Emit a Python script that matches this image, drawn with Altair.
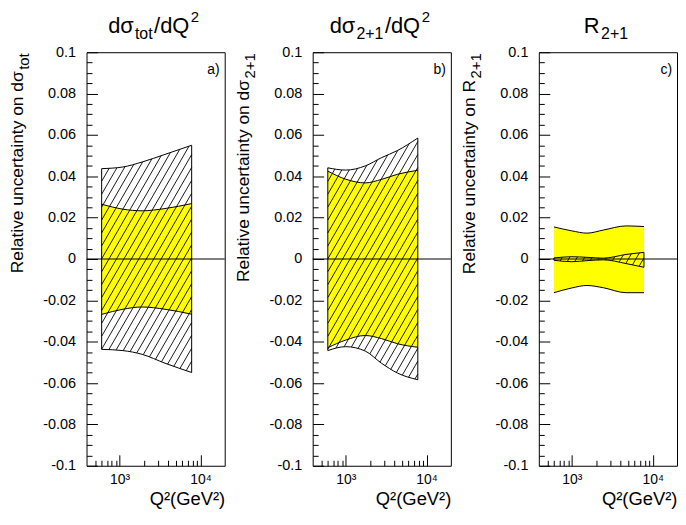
import numpy as np
import pandas as pd
import altair as alt

# ---------------- data ----------------
# titles: (text piece, role) -- role main / sub(script) / sup(erscript)
TITLE_PARTS = [
    [("dσ", "main"), ("tot", "sub"), ("/dQ", "main"), ("2", "sup")],
    [("dσ", "main"), ("2+1", "sub"), ("/dQ", "main"), ("2", "sup")],
    [("R", "main"), ("2+1", "sub")],
]
YTITLE_MAIN = ["Relative uncertainty on dσ",
               "Relative uncertainty on dσ",
               "Relative uncertainty on R"]
YTITLE_SUB = ["tot", "2+1", "2+1"]
PANEL_TAGS = ["a)", "b)", "c)"]
X_TITLE = "Q²(GeV²)"

# panel a : dsigma_tot/dQ2
Q2_A = [600, 1100, 1900, 3650, 7800]
HATCH_HI_A = [0.0437, 0.0445, 0.0469, 0.0506, 0.0550]
HATCH_LO_A = [-0.0437, -0.0443, -0.0461, -0.0504, -0.0549]
YEL_HI_A = [0.0265, 0.0241, 0.0233, 0.0244, 0.0268]
YEL_LO_A = [-0.0268, -0.0243, -0.0232, -0.0243, -0.0267]

# panel b : dsigma_2+1/dQ2
Q2_B = [600, 1000, 1740, 2770, 4390, 7800]
HATCH_HI_B = [0.0441, 0.0430, 0.0450, 0.0490, 0.0525, 0.0585]
HATCH_LO_B = [-0.0443, -0.0424, -0.0445, -0.0504, -0.0552, -0.0584]
YEL_HI_B = [0.0425, 0.0386, 0.0368, 0.0385, 0.0410, 0.0429]
YEL_LO_B = [-0.0429, -0.0392, -0.0370, -0.0385, -0.0410, -0.0427]

# panel c : R_2+1
Q2_C = [600, 1000, 1540, 2450, 4680, 7800]
HATCH_HI_C = [0.0005, 0.0011, 0.0008, 0.0004, 0.0022, 0.0032]
HATCH_LO_C = [-0.0006, -0.0013, -0.0008, -0.0004, -0.0022, -0.0040]
YEL_HI_C = [0.0155, 0.0136, 0.0125, 0.0140, 0.0160, 0.0157]
YEL_LO_C = [-0.0163, -0.0140, -0.0128, -0.0139, -0.0163, -0.0163]

X_DOMAIN = [390, 20000]
Y_DOMAIN = [-0.1, 0.1]
X_MAJOR = [1000, 10000]
X_TICKS = [500, 600, 700, 800, 900, 1000, 2000, 3000, 4000, 5000,
           6000, 7000, 8000, 9000, 10000]
Y_MAJOR = [round(v, 3) for v in np.arange(-0.1, 0.1001, 0.02)]
Y_TICKS = [round(v, 3) for v in np.arange(-0.1, 0.1001, 0.005)]

# ---------------- layout ----------------
W, H = 139, 416
YELLOW = "#ffff00"
FONT = "Liberation Sans"
# role -> (font size, baseline shift)
ROLE_STYLE = {"main": (22, 0.0), "sub": (16, 6.0), "sup": (15, -11.5)}
TITLE_BASELINE = -19
YT_X, YT_MAIN_FS, YT_SUB_FS = -69, 17.5, 15
# approximate advance widths (1/1000 em) of Liberation Sans
ADV = {"d": 556, "σ": 600, "t": 278, "o": 556, "/": 278, "Q": 778, "R": 722,
       "2": 556, "+": 584, "1": 556}


def text_width(s, fs):
    return sum(ADV.get(ch, 556) for ch in s) / 1000.0 * fs


def monotone_eval(xp, yp, xs):
    """Same curve as Vega's 'monotone' interpolation (d3 curveMonotoneX)."""
    xp = np.asarray(xp, float)
    yp = np.asarray(yp, float)
    n = len(xp)
    h = np.diff(xp)
    s = np.diff(yp) / h
    t = np.zeros(n)
    if n > 2:
        for i in range(1, n - 1):
            h0, h1, s0, s1 = h[i - 1], h[i], s[i - 1], s[i]
            p = (s0 * h1 + s1 * h0) / (h0 + h1)
            sg = (-1 if s0 < 0 else 1) + (-1 if s1 < 0 else 1)
            t[i] = sg * min(abs(s0), abs(s1), 0.5 * abs(p))
        t[0] = (3 * s[0] - t[1]) / 2
        t[-1] = (3 * s[-1] - t[-2]) / 2
    else:
        t[:] = s[0]
    idx = np.clip(np.searchsorted(xp, xs, side="right") - 1, 0, n - 2)
    x0, x1 = xp[idx], xp[idx + 1]
    y0, y1 = yp[idx], yp[idx + 1]
    dx = x1 - x0
    tau = (xs - x0) / dx
    c0 = y0 + dx * t[idx] / 3
    c1 = y1 - dx * t[idx + 1] / 3
    return ((1 - tau) ** 3) * y0 + 3 * ((1 - tau) ** 2) * tau * c0 \
        + 3 * (1 - tau) * tau ** 2 * c1 + tau ** 3 * y1


def hatch_segments(q, lo, hi, spacing=7.5, angle_deg=60.0):
    u0, u1 = np.log10(X_DOMAIN)
    px = (np.log10(q) - u0) / (u1 - u0) * W
    lo_py = (np.asarray(lo) - Y_DOMAIN[0]) / (Y_DOMAIN[1] - Y_DOMAIN[0]) * H
    hi_py = (np.asarray(hi) - Y_DOMAIN[0]) / (Y_DOMAIN[1] - Y_DOMAIN[0]) * H
    xs = np.linspace(px[0], px[-1], 6000)
    lo_c = monotone_eval(px, lo_py, xs)
    hi_c = monotone_eval(px, hi_py, xs)
    k = np.tan(np.radians(angle_deg))
    c_start = np.floor((px[0] - hi_c.max() / k) / spacing) * spacing
    c_end = px[-1] - lo_c.min() / k + spacing
    rows = []
    for c in np.arange(c_start, c_end, spacing):
        yl = k * (xs - c)
        inside = (yl >= lo_c) & (yl <= hi_c)
        if not inside.any():
            continue
        ii = np.where(inside)[0]
        a, b = ii[0], ii[-1]
        if b - a < 1:
            continue
        xa, xb = xs[a], xs[b]
        ya, yb = yl[a], yl[b]
        rows.append({
            "q1": 10 ** (u0 + xa / W * (u1 - u0)),
            "q2": 10 ** (u0 + xb / W * (u1 - u0)),
            "v1": Y_DOMAIN[0] + ya / H * (Y_DOMAIN[1] - Y_DOMAIN[0]),
            "v2": Y_DOMAIN[0] + yb / H * (Y_DOMAIN[1] - Y_DOMAIN[0]),
        })
    return pd.DataFrame(rows)


def title_table(parts):
    widths = [text_width(s, ROLE_STYLE[r][0]) for s, r in parts]
    gap = 1.5
    total = sum(widths) + gap * (len(parts) - 1)
    cur = W / 2 - total / 2 - 2
    rows = []
    for (s, r), w in zip(parts, widths):
        fs, dy = ROLE_STYLE[r]
        rows.append({"s": s, "px": cur, "py": TITLE_BASELINE + dy, "fs": fs})
        cur += w + gap
    return pd.DataFrame(rows)


xscale = alt.Scale(type="log", domain=X_DOMAIN, nice=False)
yscale = alt.Scale(domain=Y_DOMAIN, nice=False, zero=False)

Y_LABEL_EXPR = ("datum.value == 0 ? '0' : "
                "replace(format(datum.value, '.2~f'), '\u2212', '-')")


def panel(i, q, yel_lo, yel_hi, h_lo, h_hi):
    df_y = pd.DataFrame({"q": q, "lo": yel_lo, "hi": yel_hi})
    df_h = pd.DataFrame({"q": q, "lo": h_lo, "hi": h_hi})
    df_hatch = hatch_segments(q, h_lo, h_hi)

    x_label_axis = alt.Axis(
        orient="bottom", values=X_MAJOR, ticks=False, tickSize=0, domain=False,
        grid=False, labelPadding=7, labelFontSize=14, labelFlush=False,
        labelExpr="datum.value < 5000 ? '10\u00b3' : '10\u2074'",
        title=X_TITLE, titleFontSize=18.5, titleFontWeight="normal",
        titleX=W, titleY=24, titleAlign="right", titleBaseline="top")
    y_label_axis = alt.Axis(
        orient="left", values=Y_MAJOR, ticks=False, tickSize=0, domain=False,
        grid=False, labelPadding=11, labelFontSize=14.5, labelExpr=Y_LABEL_EXPR,
        title=None)
    x_tick_axis = alt.Axis(
        orient="top", offset=-H, values=X_TICKS, labels=False, domain=False,
        grid=False, title=None, tickColor="black", tickWidth=1,
        tickSize={"condition": {"test": "datum.value == 1000 || datum.value == 10000",
                                "value": 11}, "value": 5.5})
    y_tick_axis = alt.Axis(
        orient="right", offset=-W, values=Y_TICKS, labels=False, domain=False,
        grid=False, title=None, tickColor="black", tickWidth=1,
        tickSize={"condition": {"test": "abs(datum.value * 50 - round(datum.value * 50)) < 0.001",
                                "value": 11}, "value": 5.5})

    yellow = alt.Chart(df_y).mark_area(color=YELLOW, interpolate="monotone").encode(
        x=alt.X("q:Q", scale=xscale, axis=x_label_axis),
        y=alt.Y("hi:Q", scale=yscale, axis=y_label_axis),
        y2="lo:Q")
    yel_hi_line = alt.Chart(df_y).mark_line(color="black", strokeWidth=1,
                                            interpolate="monotone").encode(
        x=alt.X("q:Q", scale=xscale, axis=None),
        y=alt.Y("hi:Q", scale=yscale, axis=None))
    yel_lo_line = alt.Chart(df_y).mark_line(color="black", strokeWidth=1,
                                            interpolate="monotone").encode(
        x=alt.X("q:Q", scale=xscale, axis=None),
        y=alt.Y("lo:Q", scale=yscale, axis=None))
    hatch = alt.Chart(df_hatch).mark_rule(color="black", strokeWidth=0.9).encode(
        x=alt.X("q1:Q", scale=xscale, axis=None), x2="q2:Q",
        y=alt.Y("v1:Q", scale=yscale, axis=None), y2="v2:Q")
    outline = alt.Chart(df_h).mark_area(color="black", fillOpacity=0, stroke="black",
                                        strokeWidth=1, interpolate="monotone").encode(
        x=alt.X("q:Q", scale=xscale, axis=x_tick_axis),
        y=alt.Y("hi:Q", scale=yscale, axis=y_tick_axis),
        y2="lo:Q")
    zero = alt.Chart(pd.DataFrame({"z": [0.0]})).mark_rule(color="black", strokeWidth=1).encode(
        y=alt.Y("z:Q", scale=yscale, axis=None))
    tag = alt.Chart(pd.DataFrame({"t": [PANEL_TAGS[i]]})).mark_text(
        align="right", baseline="alphabetic", fontSize=14, color="black").encode(
        x=alt.value(W - 5), y=alt.value(22), text="t:N")

    # panel title with real sub/superscripts
    ttl = alt.Chart(title_table(TITLE_PARTS[i])).mark_text(
        align="left", baseline="alphabetic", color="black").encode(
        x=alt.X("px:Q", scale=None, axis=None),
        y=alt.Y("py:Q", scale=None, axis=None),
        size=alt.Size("fs:Q", scale=None, legend=None),
        text="s:N")

    # rotated y-axis title: main part ends where the subscript starts
    sub_w = text_width(YTITLE_SUB[i], YT_SUB_FS)
    anchor = 1 + sub_w + 1.5
    yt_main = alt.Chart(pd.DataFrame({"t": [YTITLE_MAIN[i]]})).mark_text(
        angle=270, align="right", baseline="middle", fontSize=YT_MAIN_FS, color="black").encode(
        x=alt.value(YT_X), y=alt.value(anchor), text="t:N")
    yt_sub = alt.Chart(pd.DataFrame({"t": [YTITLE_SUB[i]]})).mark_text(
        angle=270, align="left", baseline="middle", fontSize=YT_SUB_FS, color="black").encode(
        x=alt.value(YT_X + 6), y=alt.value(anchor - 1.5), text="t:N")

    return alt.layer(yellow, yel_hi_line, yel_lo_line, hatch, outline, zero, tag,
                     ttl, yt_main, yt_sub).resolve_axis(
        x="independent", y="independent").properties(width=W, height=H)


pa = panel(0, Q2_A, YEL_LO_A, YEL_HI_A, HATCH_LO_A, HATCH_HI_A)
pb = panel(1, Q2_B, YEL_LO_B, YEL_HI_B, HATCH_LO_B, HATCH_HI_B)
pc = panel(2, Q2_C, YEL_LO_C, YEL_HI_C, HATCH_LO_C, HATCH_HI_C)

chart = alt.hconcat(pa, pb, pc, spacing=8.5).properties(
    padding={"left": 0, "top": 0, "right": 0, "bottom": 0}
).configure(font=FONT).configure_view(
    stroke="black", strokeWidth=1
).configure_axis(labelColor="black", titleColor="black")

chart.save("out.html", embed_options={"renderer": "svg", "actions": False})
